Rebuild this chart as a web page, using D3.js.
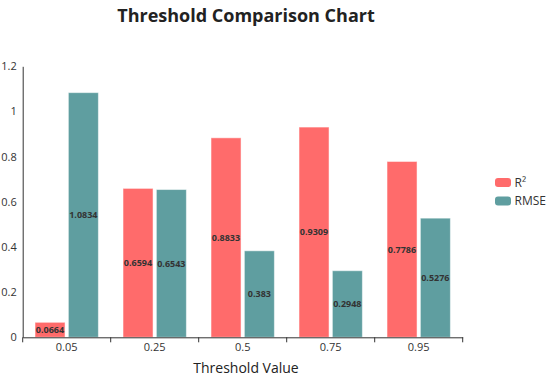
<!DOCTYPE html>
<html>
<head>
<meta charset="utf-8">
<script src="https://cdn.jsdelivr.net/npm/d3@7"></script>
<style>
  body { margin: 0; background: #fff; }
  text { font-family: "Open Sans", sans-serif; }
</style>
</head>
<body>
<svg id="main_svg" width="550" height="379"></svg>
<script>
// data
let thresholds = ["0.05", "0.25", "0.5", "0.75", "0.95"]
let r2 = [0.0664, 0.6594, 0.8833, 0.9309, 0.7786]
let rmse = [1.0834, 0.6543, 0.383, 0.2948, 0.5276]
let seriesNames = ["R²", "RMSE"]
let seriesColors = ["#ff6b6b", "#5f9ea0"]
let yTicks = [0, 0.2, 0.4, 0.6, 0.8, 1, 1.2]

let svg = d3.select("#main_svg")
let plot_left = 22.7, plot_right = 462.7, plot_top = 66.3, plot_bottom = 337.3
let mid_x = 246

let x0 = d3.scaleBand()
    .domain(thresholds)
    .range([plot_left, plot_right])
    .paddingInner(0.28)
    .paddingOuter(0.14)

let x1 = d3.scaleBand()
    .domain(seriesNames)
    .range([0, x0.bandwidth()])
    .paddingInner(0.1)
    .paddingOuter(0)

let y = d3.scaleLinear()
    .domain([0, 1.2])
    .range([plot_bottom, plot_top])

let rows = thresholds.map((t, i) => ({t: t, vals: [r2[i], rmse[i]]}))

// title
svg.append("text")
    .attr("x", mid_x)
    .attr("y", 22)
    .attr("text-anchor", "middle")
    .attr("font-size", 18)
    .attr("font-weight", "bold")
    .attr("fill", "#222")
    .text("Threshold Comparison Chart")

// bars
let groups = svg.append("g").selectAll("g")
    .data(rows)
    .join("g")
    .attr("transform", d => "translate(" + x0(d.t) + ",0)")

groups.selectAll("rect")
    .data(d => d.vals.map((v, k) => ({name: seriesNames[k], v: v, k: k})))
    .join("rect")
    .attr("x", d => x1(d.name))
    .attr("y", d => y(d.v))
    .attr("width", x1.bandwidth())
    .attr("height", d => y(0) - y(d.v))
    .attr("fill", d => seriesColors[d.k])
    .attr("stroke", "#fff")
    .attr("stroke-opacity", 0.5)
    .attr("stroke-width", 1)

groups.selectAll("text")
    .data(d => d.vals.map((v, k) => ({name: seriesNames[k], v: v, k: k})))
    .join("text")
    .attr("x", d => x1(d.name) + x1.bandwidth() / 2)
    .attr("y", d => (y(d.v) + y(0)) / 2)
    .attr("dy", "0.35em")
    .attr("text-anchor", "middle")
    .attr("font-size", 9)
    .attr("font-weight", "bold")
    .attr("fill", "#333")
    .text(d => d.v)

// axes
let yAxis = svg.append("g")
    .attr("transform", "translate(" + plot_left + ",0)")
    .call(d3.axisLeft(y).tickValues(yTicks).tickSize(0).tickPadding(6).tickFormat(d => String(d)))
yAxis.select(".domain").attr("stroke", "#333")
yAxis.selectAll("text").attr("font-size", 11).attr("fill", "#333").style("font-family", "Open Sans")

let xAxis = svg.append("g")
    .attr("transform", "translate(0," + plot_bottom + ")")
    .call(d3.axisBottom(x0).tickSize(0).tickSizeOuter(0).tickPadding(6))
xAxis.select(".domain").attr("stroke", "#333")
xAxis.selectAll("text").attr("font-size", 11).attr("fill", "#333").style("font-family", "Open Sans")

// tick marks at band boundaries
let bounds = thresholds.map(t => x0(t) - x0.step() * x0.paddingInner() / 2)
bounds.push(plot_right)
xAxis.selectAll(".bound")
    .data(bounds)
    .join("line")
    .attr("class", "bound")
    .attr("x1", d => d).attr("x2", d => d)
    .attr("y1", 0).attr("y2", 5)
    .attr("stroke", "#333")

svg.append("text")
    .attr("x", mid_x)
    .attr("y", 373)
    .attr("text-anchor", "middle")
    .attr("font-size", 14)
    .attr("fill", "#222")
    .text("Threshold Value")

// legend
let legend = svg.append("g")
    .attr("transform", "translate(495,178)")
seriesNames.forEach((n, i) => {
    legend.append("rect")
        .attr("x", 0).attr("y", i * 18.4)
        .attr("width", 16).attr("height", 9)
        .attr("rx", 3)
        .attr("fill", seriesColors[i])
    legend.append("text")
        .attr("x", 19.5).attr("y", i * 18.4 + 4.5)
        .attr("dy", "0.35em")
        .attr("font-size", 12)
        .attr("fill", "#333")
        .text(n)
})
</script>
</body>
</html>
